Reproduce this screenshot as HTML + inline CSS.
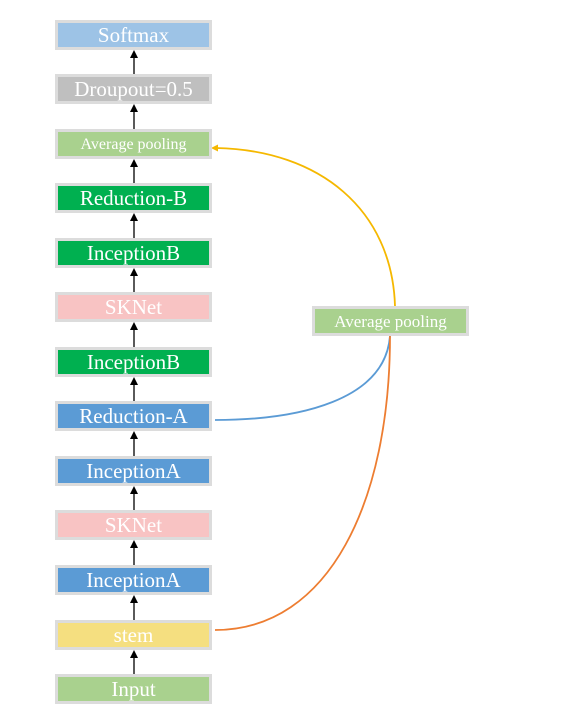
<!DOCTYPE html>
<html><head><style>
body{margin:0;width:563px;height:705px;background:#fff;position:relative;font-family:"Liberation Serif",serif;overflow:hidden}
.b{position:absolute;left:55px;width:151px;height:24px;border:3px solid #dcdcdc;color:#fff;font-size:21px;line-height:25px;text-align:center;white-space:nowrap}
svg{position:absolute;left:0;top:0}
</style></head><body>
<svg width="563" height="705">
<g stroke="#000" stroke-width="1.3">
<line x1="134" y1="74" x2="134" y2="56"/>
<line x1="134" y1="129" x2="134" y2="110"/>
<line x1="134" y1="183" x2="134" y2="165"/>
<line x1="134" y1="238" x2="134" y2="219"/>
<line x1="134" y1="292" x2="134" y2="274"/>
<line x1="134" y1="347" x2="134" y2="328"/>
<line x1="134" y1="401" x2="134" y2="383"/>
<line x1="134" y1="456" x2="134" y2="437"/>
<line x1="134" y1="510" x2="134" y2="492"/>
<line x1="134" y1="565" x2="134" y2="546"/>
<line x1="134" y1="620" x2="134" y2="601"/>
<line x1="134" y1="674" x2="134" y2="656"/>
</g>
<g fill="#000">
<path d="M134,50 L130,58 L138,58Z"/>
<path d="M134,104 L130,112 L138,112Z"/>
<path d="M134,159 L130,167 L138,167Z"/>
<path d="M134,213 L130,221 L138,221Z"/>
<path d="M134,268 L130,276 L138,276Z"/>
<path d="M134,322 L130,330 L138,330Z"/>
<path d="M134,377 L130,385 L138,385Z"/>
<path d="M134,431 L130,439 L138,439Z"/>
<path d="M134,486 L130,494 L138,494Z"/>
<path d="M134,540 L130,548 L138,548Z"/>
<path d="M134,595 L130,603 L138,603Z"/>
<path d="M134,650 L130,658 L138,658Z"/>
</g>
<path d="M395,306 C392,210 320,150 216,148" fill="none" stroke="#f5b800" stroke-width="1.8"/>
<path d="M211,148 L218,144.5 L218,151.5Z" fill="#f5b800"/>
<path d="M390,336 C385,400 300,420 215,420" fill="none" stroke="#5b9bd5" stroke-width="1.8"/>
<path d="M390,336 C390,500 330,630 215,630" fill="none" stroke="#ed7d31" stroke-width="1.8"/>
</svg>
<div class="b" style="top:20px;background:#9dc3e6">Softmax</div>
<div class="b" style="top:74px;background:#bfbfbf">Droupout=0.5</div>
<div class="b" style="top:129px;background:#a9d18e;font-size:16px">Average pooling</div>
<div class="b" style="top:183px;background:#00b050">Reduction-B</div>
<div class="b" style="top:238px;background:#00b050">InceptionB</div>
<div class="b" style="top:292px;background:#f8c3c3">SKNet</div>
<div class="b" style="top:347px;background:#00b050">InceptionB</div>
<div class="b" style="top:401px;background:#5b9bd5">Reduction-A</div>
<div class="b" style="top:456px;background:#5b9bd5">InceptionA</div>
<div class="b" style="top:510px;background:#f8c3c3">SKNet</div>
<div class="b" style="top:565px;background:#5b9bd5">InceptionA</div>
<div class="b" style="top:620px;background:#f5df80">stem</div>
<div class="b" style="top:674px;background:#a9d18e">Input</div>
<div class="b" style="left:312px;top:306px;background:#a9d18e;font-size:17px">Average pooling</div>
</body></html>
